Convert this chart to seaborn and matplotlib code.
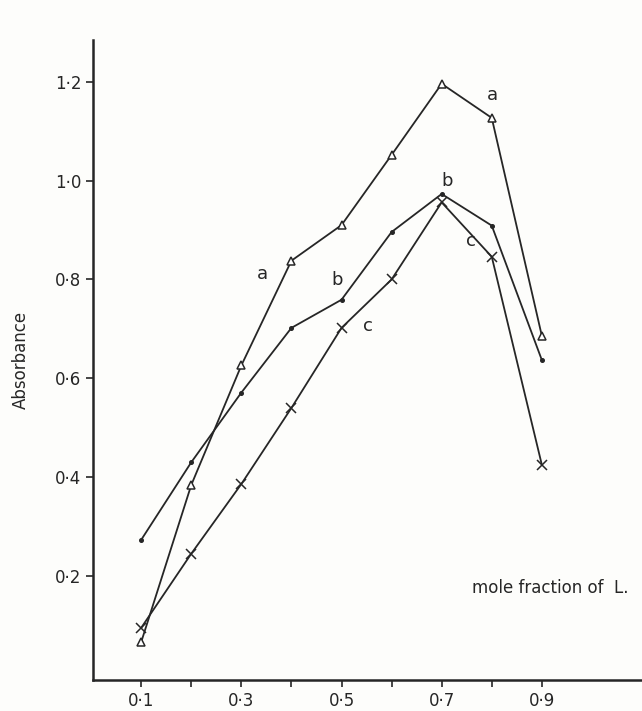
import matplotlib
matplotlib.use("Agg")
import matplotlib.pyplot as plt
import seaborn as sns

# mole fraction of L and absorbance for the three series
mole_fraction = [0.1, 0.2, 0.3, 0.4, 0.5, 0.6, 0.7, 0.8, 0.9]
absorbance_a = [0.066, 0.384, 0.626, 0.838, 0.910, 1.052, 1.196, 1.127, 0.686]
absorbance_b = [0.273, 0.430, 0.571, 0.702, 0.759, 0.896, 0.973, 0.909, 0.637]
absorbance_c = [0.095, 0.245, 0.386, 0.540, 0.702, 0.800, 0.956, 0.846, 0.425]

x_ticks = [0.1, 0.3, 0.5, 0.7, 0.9]
x_tick_labels = ["0·1", "0·3", "0·5", "0·7", "0·9"]
y_ticks = [0.2, 0.4, 0.6, 0.8, 1.0, 1.2]
y_tick_labels = ["0·2", "0·4", "0·6", "0·8", "1·0", "1·2"]

# curve labels: (text, x, y)
curve_labels = [
    ("a", 0.801, 1.174), ("a", 0.343, 0.811),
    ("b", 0.711, 1.000), ("b", 0.491, 0.799),
    ("c", 0.758, 0.877), ("c", 0.553, 0.706),
]

ink = "#262626"
series = [
    (absorbance_a, "^", 5.5, "white"),
    (absorbance_b, "o", 2.5, ink),
    (absorbance_c, "x", 7, ink),
]

sns.set_style("ticks")
plt.rcParams["font.family"] = ["DejaVu Sans"]

fig = plt.figure(figsize=(6.42, 7.11), dpi=100, facecolor="#fdfdfb")
ax = fig.add_axes([0.145, 0.044, 0.855, 0.9])
ax.set_facecolor("#fdfdfb")

for values, marker, size, face in series:
    sns.lineplot(
        x=mole_fraction, y=values, color=ink, marker=marker, markersize=size,
        markerfacecolor=face, markeredgecolor=ink, markeredgewidth=1.1,
        linewidth=1.3, ax=ax,
    )

for text, tx, ty in curve_labels:
    ax.text(tx, ty, text, fontsize=13, color=ink, ha="center", va="center")
ax.text(0.76, 0.176, "mole fraction of  L.", fontsize=12, color=ink, ha="left", va="center")

ax.set_xlim(0.004, 1.1)
ax.set_ylim(-0.01, 1.285)
ax.set_xticks(x_ticks)
ax.set_xticklabels(x_tick_labels)
ax.set_xticks([0.2, 0.4, 0.6, 0.8], minor=True)
ax.set_yticks(y_ticks)
ax.set_yticklabels(y_tick_labels)
ax.tick_params(axis="both", which="both", direction="out", length=5, width=1.2, colors=ink, labelsize=12)
ax.set_xlabel("")
ax.set_ylabel("Absorbance", fontsize=12, color=ink, labelpad=18)
sns.despine(ax=ax)
for side in ["left", "bottom"]:
    ax.spines[side].set_linewidth(1.8)
    ax.spines[side].set_color(ink)

fig.savefig("out.png", dpi=100, facecolor=fig.get_facecolor())
